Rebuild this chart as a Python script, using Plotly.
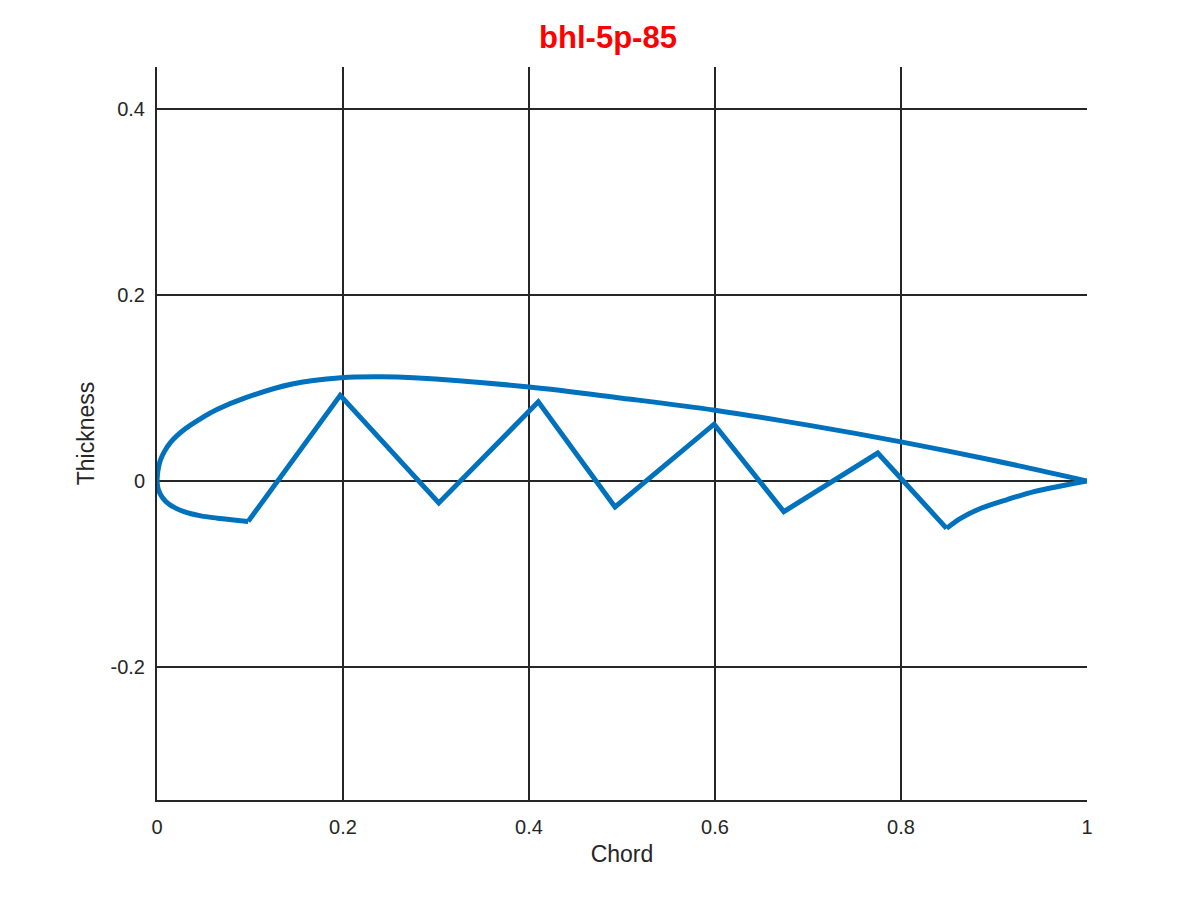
import plotly.graph_objects as go

# Upper surface (leading edge -> trailing edge)
upper_x = [0.0, 0.001, 0.0035, 0.0079, 0.015, 0.029, 0.047, 0.065, 0.094, 0.144, 0.198, 0.241, 0.276,
           0.40, 0.50, 0.60, 0.70, 0.80, 0.90, 1.0]
upper_y = [0.0, 0.011, 0.022, 0.0315, 0.042, 0.055, 0.067, 0.077, 0.089, 0.104, 0.111, 0.112, 0.111,
           0.101, 0.089, 0.076, 0.060, 0.042, 0.022, 0.0]

# Lower surface: leading-edge curve
lower_le_x = [0.0, 0.0015, 0.006, 0.013, 0.029, 0.047, 0.065, 0.098]
lower_le_y = [0.0, -0.0095, -0.018, -0.025, -0.033, -0.0376, -0.040, -0.0435]

# Lower surface: bumps (zigzag)
zig_x = [0.098, 0.197, 0.303, 0.410, 0.4925, 0.599, 0.674, 0.775, 0.849]
zig_y = [-0.0435, 0.092, -0.0237, 0.085, -0.028, 0.061, -0.033, 0.030, -0.051]

# Lower surface: trailing-edge curve
lower_te_x = [0.849, 0.8645, 0.886, 0.915, 0.943, 0.972, 1.0]
lower_te_y = [-0.051, -0.040, -0.0294, -0.0197, -0.0115, -0.0054, 0.0]

x_ticks = [0, 0.2, 0.4, 0.6, 0.8, 1]
x_tick_labels = ["0", "0.2", "0.4", "0.6", "0.8", "1"]
y_ticks = [-0.2, 0, 0.2, 0.4]
y_tick_labels = ["-0.2", "0", "0.2", "0.4"]

LINE = "#0072BD"
AX = "#262626"
W = 5
FONT = "Liberation Sans, Arial, sans-serif"

fig = go.Figure()
fig.add_trace(go.Scatter(x=upper_x, y=upper_y, mode="lines",
                         line=dict(color=LINE, width=W, shape="spline", smoothing=1.0)))
fig.add_trace(go.Scatter(x=lower_le_x, y=lower_le_y, mode="lines",
                         line=dict(color=LINE, width=W, shape="spline", smoothing=1.0)))
fig.add_trace(go.Scatter(x=zig_x, y=zig_y, mode="lines",
                         line=dict(color=LINE, width=W)))
fig.add_trace(go.Scatter(x=lower_te_x, y=lower_te_y, mode="lines",
                         line=dict(color=LINE, width=W, shape="spline", smoothing=1.0)))

fig.update_layout(
    width=1200, height=900,
    paper_bgcolor="white", plot_bgcolor="white",
    showlegend=False,
    margin=dict(l=149, r=121, t=59, b=108),
    font=dict(family=FONT, color=AX, size=20),
    title=dict(text="<b>bhl-5p-85</b>", x=0.5, xanchor="center", y=0.968, yanchor="middle",
               font=dict(size=31, color="#FF0000", family=FONT)),
    xaxis=dict(range=[0, 1], tickvals=x_ticks, ticktext=x_tick_labels,
               showgrid=True, gridcolor=AX, gridwidth=2,
               zeroline=False, showline=True, linecolor=AX, linewidth=2,
               ticks="", ticklabelstandoff=8, tickfont=dict(size=20),
               title=dict(text="Chord", font=dict(size=23), standoff=9)),
    yaxis=dict(range=[-0.343, 0.445], tickvals=y_ticks, ticktext=y_tick_labels,
               showgrid=True, gridcolor=AX, gridwidth=2,
               zeroline=True, zerolinecolor=AX, zerolinewidth=2,
               showline=True, linecolor=AX, linewidth=2,
               ticks="", ticklabelstandoff=6, tickfont=dict(size=20),
               title=dict(text="Thickness", font=dict(size=23), standoff=9)),
)

fig.write_html("out.html")
